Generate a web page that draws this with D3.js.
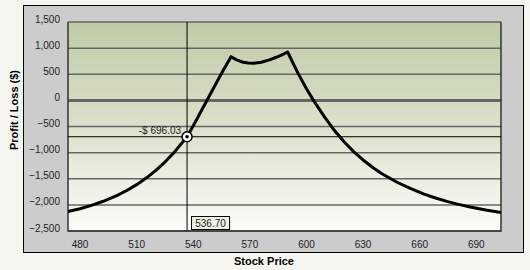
<!DOCTYPE html>
<html>
<head>
<meta charset="utf-8">
<script src="https://cdn.jsdelivr.net/npm/d3@7"></script>
<style>
  body { margin: 0; background: #f4f6ef; }
  svg { display: block; font-family: "Liberation Sans", Arial, sans-serif; }
</style>
</head>
<body>
<div id="chart"></div>
<script>
// profit / loss curve
const prices = [473.6, 480, 486, 492.3, 500, 505, 510, 515.4, 520, 525, 530, 536.7, 540, 545, 550, 555, 560,
  563, 566, 569, 572, 576, 580, 584, 587, 590, 595.4, 600, 603.7, 610, 614.3, 620, 625, 630, 635.5, 640,
  648, 655, 662, 668, 674.4, 680, 686.8, 695, 703.1];
const pnl = [-2127, -2073, -2010, -1931, -1812, -1720, -1613, -1478, -1345, -1180, -990, -696, -485, -150, 185, 520, 836,
  775, 735, 715, 710, 730, 770, 825, 870, 926, 526, 222, 0, -340, -551, -796, -981, -1141, -1295, -1403,
  -1567, -1686, -1788, -1863, -1933, -1986, -2040, -2097, -2146];
const xTicks = [480, 510, 540, 570, 600, 630, 660, 690];
const yTicks = [1500, 1000, 500, 0, -500, -1000, -1500, -2000, -2500];
const cursorPrice = 536.70;
const cursorPnl = -696.03;

const width = 530, height = 270;
const plot = { left: 68, right: 501, top: 22, bottom: 231 };

const svg = d3.select("#chart").append("svg")
  .attr("width", width)
  .attr("height", height);

const x = d3.scaleLinear().domain([473.6, 703.1]).range([plot.left, plot.right]);
const y = d3.scaleLinear().domain([-2500, 1500]).range([plot.bottom, plot.top]);

// gradient for plot background
const grad = svg.append("defs").append("linearGradient")
  .attr("id", "bg").attr("x1", 0).attr("y1", 0).attr("x2", 0).attr("y2", 1);
grad.append("stop").attr("offset", "0%").attr("stop-color", "#bfcba8");
grad.append("stop").attr("offset", "45%").attr("stop-color", "#d7dfc7");
grad.append("stop").attr("offset", "100%").attr("stop-color", "#fbfcf8");

// grey frame
svg.append("rect")
  .attr("x", 23.5).attr("y", 5.5)
  .attr("width", 500).attr("height", 247)
  .attr("fill", "#cccccc")
  .attr("stroke", "#000");

svg.append("rect")
  .attr("x", plot.left).attr("y", plot.top)
  .attr("width", plot.right - plot.left).attr("height", plot.bottom - plot.top)
  .attr("fill", "url(#bg)");

// gridlines
svg.append("g").selectAll("line")
  .data(yTicks)
  .enter()
  .append("line")
  .attr("x1", plot.left).attr("x2", plot.right)
  .attr("y1", d => y(d)).attr("y2", d => y(d))
  .attr("stroke", "#666")
  .attr("stroke-width", d => d === 0 ? 3 : 1.5);

// plot border (left, right, bottom)
svg.append("path")
  .attr("d", `M${plot.left},${plot.top}V${plot.bottom}H${plot.right}V${plot.top}`)
  .attr("fill", "none")
  .attr("stroke", "#333")
  .attr("stroke-width", 1.5);

// y tick labels
svg.append("g").selectAll("text")
  .data(yTicks)
  .enter()
  .append("text")
  .attr("x", 60)
  .attr("y", d => y(d) - 3)
  .attr("dy", "0.35em")
  .attr("text-anchor", "end")
  .attr("font-size", 10)
  .attr("fill", "#222")
  .text(d => d3.format(",")(d));

// x tick labels
svg.append("g").selectAll("text")
  .data(xTicks)
  .enter()
  .append("text")
  .attr("x", d => x(d))
  .attr("y", 244)
  .attr("dy", "0.35em")
  .attr("text-anchor", "middle")
  .attr("font-size", 10)
  .attr("fill", "#222")
  .text(d => d);

// axis titles
svg.append("text")
  .attr("x", 264).attr("y", 265)
  .attr("text-anchor", "middle")
  .attr("font-size", 11).attr("font-weight", "bold")
  .text("Stock Price");

svg.append("text")
  .attr("transform", "translate(18,110) rotate(-90)")
  .attr("text-anchor", "middle")
  .attr("font-size", 11).attr("font-weight", "bold")
  .text("Profit / Loss ($)");

// crosshair
svg.append("line")
  .attr("x1", x(cursorPrice)).attr("x2", x(cursorPrice))
  .attr("y1", plot.top).attr("y2", plot.bottom)
  .attr("stroke", "#000").attr("stroke-width", 1);
svg.append("line")
  .attr("x1", plot.left).attr("x2", plot.right)
  .attr("y1", y(cursorPnl)).attr("y2", y(cursorPnl))
  .attr("stroke", "#000").attr("stroke-width", 1);

// P/L line
const line = d3.line()
  .x((d, i) => x(prices[i]))
  .y(d => y(d));
svg.append("path")
  .datum(pnl)
  .attr("d", line)
  .attr("fill", "none")
  .attr("stroke", "#000")
  .attr("stroke-width", 3)
  .attr("stroke-linejoin", "round");

// cursor marker
svg.append("circle")
  .attr("cx", x(cursorPrice)).attr("cy", y(cursorPnl))
  .attr("r", 5)
  .attr("fill", "#fff").attr("stroke", "#000").attr("stroke-width", 1.5);
svg.append("circle")
  .attr("cx", x(cursorPrice)).attr("cy", y(cursorPnl))
  .attr("r", 1.8)
  .attr("fill", "#000");

svg.append("text")
  .attr("x", x(cursorPrice) - 6).attr("y", y(cursorPnl) - 3)
  .attr("text-anchor", "end")
  .attr("font-size", 10)
  .attr("fill", "#222")
  .text("-$ " + d3.format(".2f")(-cursorPnl));

// price box
const bx = x(cursorPrice) + 4.5;
svg.append("rect")
  .attr("x", bx).attr("y", 216.5)
  .attr("width", 38).attr("height", 13)
  .attr("fill", "#eef1e4")
  .attr("stroke", "#000");
svg.append("text")
  .attr("x", bx + 19).attr("y", 223)
  .attr("dy", "0.35em")
  .attr("text-anchor", "middle")
  .attr("font-size", 10)
  .attr("fill", "#222")
  .text(d3.format(".2f")(cursorPrice));
</script>
</body>
</html>
